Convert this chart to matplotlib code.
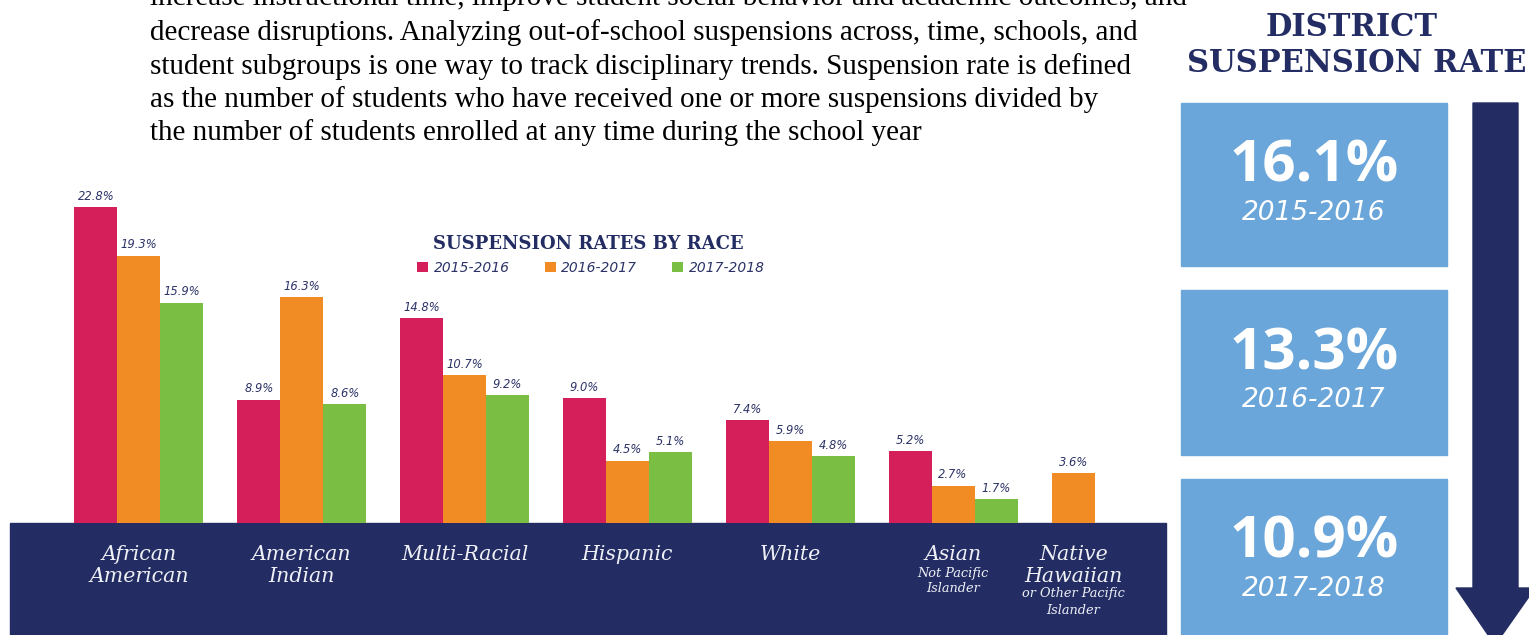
import matplotlib
matplotlib.use("Agg")
import matplotlib.pyplot as plt
from matplotlib.patches import Rectangle, Polygon
import matplotlib.transforms as mtransforms

# ---------------- data ----------------
categories = ["African\nAmerican", "American\nIndian", "Multi-Racial", "Hispanic",
              "White", "Asian", "Native\nHawaiian"]
subnotes = ["", "", "", "", "", "Not Pacific\nIslander", "or Other Pacific\nIslander"]
years = ["2015-2016", "2016-2017", "2017-2018"]
rates_2015_16 = [22.8, 8.9, 14.8, 9.0, 7.4, 5.2, None]
rates_2016_17 = [19.3, 16.3, 10.7, 4.5, 5.9, 2.7, 3.6]
rates_2017_18 = [15.9, 8.6, 9.2, 5.1, 4.8, 1.7, None]
district_rates = [16.1, 13.3, 10.9]

paragraph = [
    "increase instructional time, improve student social behavior and academic outcomes, and",
    "decrease disruptions. Analyzing out-of-school suspensions across, time, schools, and",
    "student subgroups is one way to track disciplinary trends. Suspension rate is defined",
    "as the number of students who have received one or more suspensions divided by",
    "the number of students enrolled at any time during the school year",
]

# ---------------- style ----------------
PINK, ORANGE, GREEN = "#d41f5b", "#f08c23", "#7abf43"
NAVY = "#232d63"
TXT_NAVY = "#2c3367"
BOX_BLUE = "#6aa6d9"
series_colors = [PINK, ORANGE, GREEN]
series = [rates_2015_16, rates_2016_17, rates_2017_18]

W, H = 1529, 635
fig = plt.figure(figsize=(W / 100, H / 100), dpi=100)
bg = fig.add_axes([0, 0, 1, 1])
bg.set_xlim(0, W)
bg.set_ylim(H, 0)
bg.axis("off")

# paragraph text (clipped at the top like the reference)
line_y = [5, 40, 74, 107, 140]
for t, y in zip(paragraph, line_y):
    bg.text(150, y, t, family="Liberation Serif", fontsize=21, color="black",
            va="baseline", ha="left")

# navy band under the bars
bg.add_patch(Rectangle((10, 523), 1156, 120, color=NAVY, zorder=0))

# ---------------- bar chart ----------------
ax = fig.add_axes([10 / W, (H - 523) / H, 1156 / W, 343 / H])
ax.patch.set_alpha(0)
ax.set_ylim(0, 343 / 13.86)
ax.set_xlim(-0.792, 6.308)
ax.axis("off")

group_pos = [0, 1, 2, 3, 4, 5, 5.74]
bw = 0.264
for gi, gx in enumerate(group_pos):
    present = [si for si in range(3) if series[si][gi] is not None]
    n = len(present)
    for j, si in enumerate(present):
        v = series[si][gi]
        x = gx + (j - (n - 1) / 2) * bw
        ax.bar(x, v, width=bw, color=series_colors[si],
               label=years[si] if gi == 0 else None)
        ax.annotate(f"{v:.1f}%", (x, v), xytext=(0, 3), textcoords="offset points",
                    ha="center", va="bottom", fontsize=8.3, style="italic",
                    color=TXT_NAVY, family="DejaVu Sans")

# category labels in the band
base = ax.get_xaxis_transform()
for gi, gx in enumerate(group_pos):
    y = 32
    for line in categories[gi].split("\n"):
        tr = mtransforms.offset_copy(base, fig=fig, x=0, y=-y, units="dots")
        ax.text(gx, 0, line, transform=tr, ha="center", va="center",
                family="DejaVu Serif", style="italic", fontsize=14.8,
                color="#eef0f6", clip_on=False)
        y += 21
    if subnotes[gi]:
        y -= 3
        for line in subnotes[gi].split("\n"):
            tr = mtransforms.offset_copy(base, fig=fig, x=0, y=-y, units="dots")
            ax.text(gx, 0, line, transform=tr, ha="center", va="center",
                    family="DejaVu Serif", style="italic", fontsize=9.3,
                    color="#eef0f6", clip_on=False)
            y += 16

# chart title and legend
bg.text(588, 244, "SUSPENSION RATES BY RACE", ha="center", va="center",
        family="DejaVu Serif", weight="bold", fontsize=13, color=NAVY)
handles, labels = ax.get_legend_handles_labels()
fig.legend(handles, labels, loc="center", ncol=3, frameon=False,
           bbox_to_anchor=(591 / W, 1 - 268 / H),
           prop={"family": "DejaVu Sans", "style": "italic", "size": 10},
           labelcolor=TXT_NAVY, handlelength=0.8, handleheight=0.8,
           handletextpad=0.4, columnspacing=2.5)

# ---------------- district panel ----------------
bg.text(1352, 28, "DISTRICT", ha="center", va="center", family="DejaVu Serif",
        weight="bold", fontsize=22, color=NAVY)
bg.text(1357, 63, "SUSPENSION RATE", ha="center", va="center", family="DejaVu Serif",
        weight="bold", fontsize=22, color=NAVY)

box_tops = [103, 290, 479]
box_h = [163, 165, 170]
for rate, yr, top, h in zip(district_rates, years, box_tops, box_h):
    bg.add_patch(Rectangle((1181, top), 266, h, color=BOX_BLUE, zorder=1))
    bg.text(1314, top + 64, f"{rate:.1f}%", ha="center", va="center",
            family="Open Sans", weight="bold", fontsize=42, color="white", zorder=2)
    bg.text(1314, top + 110, yr, ha="center", va="center", family="DejaVu Sans",
            style="italic", fontsize=19, color="white", zorder=2)

# downward arrow
arrow = Polygon([(1473, 103), (1518, 103), (1518, 588), (1535, 588),
                 (1495, 645), (1456, 588), (1473, 588)],
                closed=True, color=NAVY, zorder=1)
bg.add_patch(arrow)

fig.savefig("out.png", dpi=100)
